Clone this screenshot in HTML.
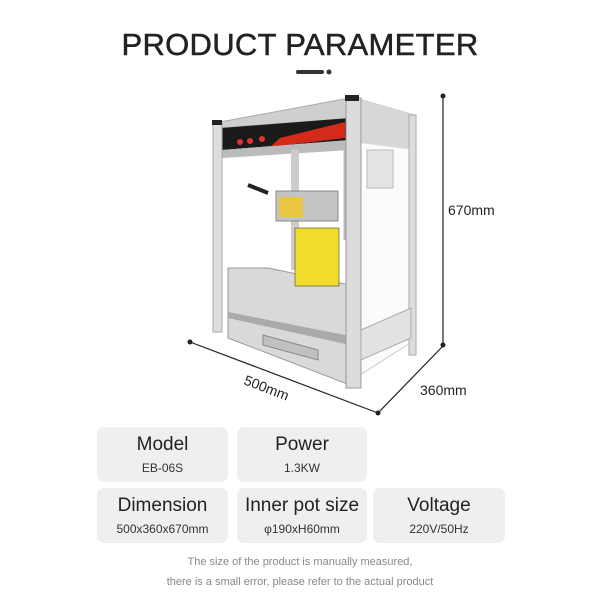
<!DOCTYPE html>
<html><head><style>
body{margin:0;width:600px;height:600px;background:#fff;position:relative;font-family:"Liberation Sans",sans-serif;overflow:hidden}
.t{position:absolute;left:0;width:600px;top:27px;text-align:center;font-size:31px;color:#222;letter-spacing:0.3px;-webkit-text-stroke:0.5px #222}
.b{position:absolute;background:#efefef;border-radius:7px;text-align:center;color:#222}
.b .h{font-size:19px;margin-top:7px}
.b .s{font-size:12px;margin-top:5px;color:#333}
.n{position:absolute;text-align:center;left:0;width:600px;font-size:11px;color:#888}
</style></head><body>
<div class="t">PRODUCT PARAMETER</div>
<svg width="600" height="600" style="position:absolute;left:0;top:0">
<line x1="298" y1="72" x2="322" y2="72" stroke="#333" stroke-width="4" stroke-linecap="round"/>
<circle cx="329" cy="72" r="2.5" fill="#333"/>
<g stroke="#222" stroke-width="1.2">
<line x1="443" y1="96" x2="443" y2="345"/>
<line x1="190" y1="342" x2="378" y2="413"/>
<line x1="378" y1="413" x2="443" y2="346"/>
</g>
<g fill="#222"><circle cx="443" cy="96" r="2.5"/><circle cx="443" cy="345" r="2.5"/><circle cx="190" cy="342" r="2.5"/><circle cx="378" cy="413" r="2.5"/></g>
<text x="448" y="215" font-size="14" fill="#222" font-family="Liberation Sans">670mm</text>
<text x="420" y="395" font-size="14" fill="#222" font-family="Liberation Sans">360mm</text>
<text x="0" y="0" font-size="14" fill="#222" font-family="Liberation Sans" transform="translate(243,384) rotate(21)">500mm</text>
<!-- machine -->
<polygon points="355,98 415,115 415,340 360,375" fill="#fbfbfb" stroke="#ccc"/>
<polygon points="360,100 415,115 415,150 360,143" fill="#d8d8d8"/>
<polygon points="220,122 355,97 355,118 220,128" fill="#cfcfcf" stroke="#aaa"/>
<polygon points="222,128 350,118 350,140 222,150" fill="#1a1a1a"/>
<polygon points="280,138 345,122 345,138 270,147" fill="#d42a1a"/>
<circle cx="240" cy="142" r="3" fill="#d33"/><circle cx="250" cy="141" r="3" fill="#d33"/><circle cx="262" cy="139" r="3" fill="#d33"/>
<polygon points="222,150 350,140 350,150 222,158" fill="#bbb"/>
<polygon points="268,268 350,285 350,385 228,338 228,268" fill="#d9d9d9" stroke="#999"/>
<polygon points="228,312 350,336 350,345 228,318" fill="#aaa"/>
<polygon points="263,335 318,350 318,360 263,345" fill="#c0c0c0" stroke="#888"/>
<rect x="291" y="150" width="8" height="120" fill="#ccc"/>
<rect x="276" y="191" width="62" height="30" fill="#c4c4c4" stroke="#888"/>
<rect x="279" y="197" width="24" height="20" fill="#e8c640"/>
<rect x="295" y="228" width="44" height="58" fill="#f0dc2a" stroke="#444" stroke-width="0.6"/>
<line x1="248" y1="185" x2="268" y2="193" stroke="#222" stroke-width="4"/>
<line x1="345" y1="150" x2="345" y2="240" stroke="#bbb" stroke-width="3"/>
<rect x="346" y="98" width="15" height="290" fill="#dcdcdc" stroke="#999"/>
<rect x="345" y="95" width="14" height="6" fill="#222"/>
<rect x="213" y="122" width="9" height="210" fill="#ddd" stroke="#aaa"/>
<rect x="212" y="120" width="10" height="5" fill="#222"/>
<rect x="409" y="115" width="7" height="240" fill="#ddd" stroke="#aaa"/>
<polygon points="361,330 411,308 411,338 361,360" fill="#e2e2e2" stroke="#aaa"/>
<rect x="367" y="150" width="26" height="38" fill="#e4e4e4" stroke="#bbb"/>
</svg>
<div class="b" style="left:97px;top:427px;width:131px;height:55px"><div class="h">Model</div><div class="s">EB-06S</div></div>
<div class="b" style="left:237px;top:427px;width:130px;height:55px"><div class="h">Power</div><div class="s">1.3KW</div></div>
<div class="b" style="left:97px;top:488px;width:131px;height:55px"><div class="h">Dimension</div><div class="s">500x360x670mm</div></div>
<div class="b" style="left:237px;top:488px;width:130px;height:55px"><div class="h">Inner pot size</div><div class="s">φ190xH60mm</div></div>
<div class="b" style="left:373px;top:488px;width:132px;height:55px"><div class="h">Voltage</div><div class="s">220V/50Hz</div></div>
<div class="n" style="top:556px">The size of the product is manually measured,</div>
<div class="n" style="top:576px">there is a small error, please refer to the actual product</div>
</body></html>
